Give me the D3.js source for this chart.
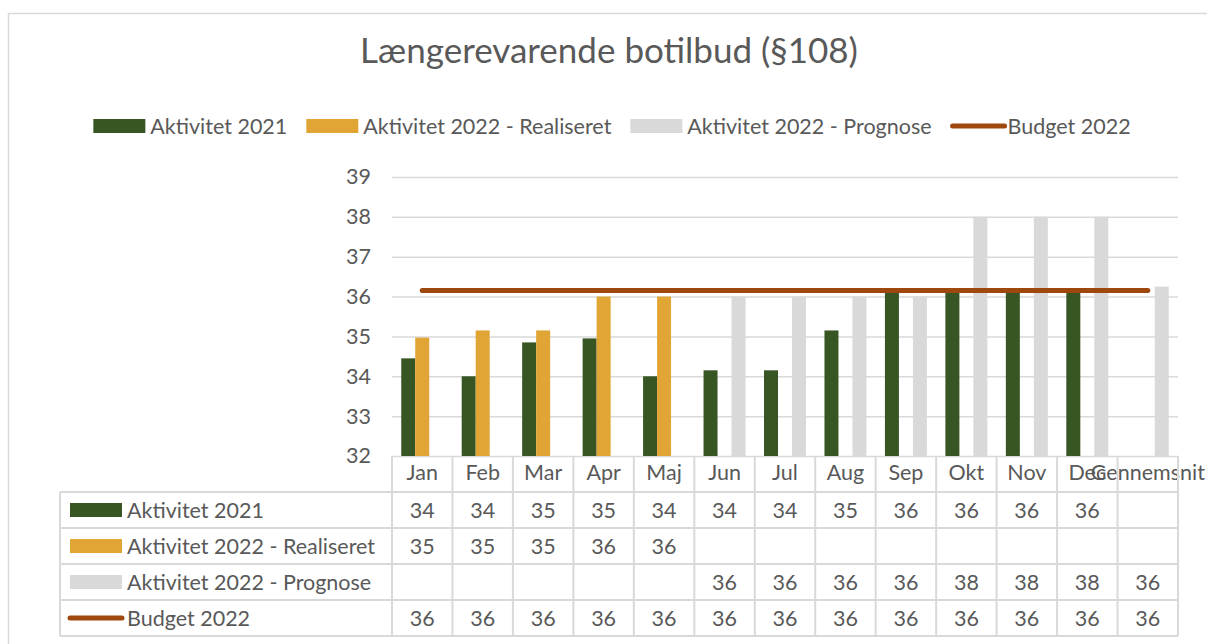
<!DOCTYPE html>
<html>
<head>
<meta charset="utf-8">
<script src="https://cdn.jsdelivr.net/npm/d3@7"></script>
<style>
body { margin: 0; background: #fff; }
text { font-family: Lato, "Open Sans", sans-serif; fill: #595959; }
</style>
</head>
<body>
<svg id="chart" width="1207" height="644"></svg>
<script>
// data
const months = ["Jan", "Feb", "Mar", "Apr", "Maj", "Jun", "Jul", "Aug", "Sep", "Okt", "Nov", "Dec", "Gennemsnit"];
const akt2021 = [34.45, 34.0, 34.85, 34.95, 34.0, 34.15, 34.15, 35.15, 36.15, 36.15, 36.15, 36.15, null];
const real2022 = [34.97, 35.15, 35.15, 36.0, 36.0, null, null, null, null, null, null, null, null];
const prog2022 = [null, null, null, null, null, 36.0, 36.0, 36.0, 36.0, 38.0, 38.0, 38.0, 36.25];
const budget2022 = [36.15, 36.15, 36.15, 36.15, 36.15, 36.15, 36.15, 36.15, 36.15, 36.15, 36.15, 36.15, 36.15];
const yTicks = [32, 33, 34, 35, 36, 37, 38, 39];
const title = "Længerevarende botilbud (§108)";

const series = [
    { name: "Aktivitet 2021", values: akt2021, color: "#375623", type: "bar" },
    { name: "Aktivitet 2022 - Realiseret", values: real2022, color: "#E1A535", type: "bar" },
    { name: "Aktivitet 2022 - Prognose", values: prog2022, color: "#D9D9D9", type: "bar" },
    { name: "Budget 2022", values: budget2022, color: "#9E480E", type: "line" }
];
const barSeries = series.filter(s => s.type == "bar");

const gridColor = "#D9D9D9";
const fontSize = 21.5;
const plot = { left: 392, right: 1178, top: 177, bottom: 456 };
const rowH = 36;
const tableTop = 492;
const tableLeft = 60;

const svg = d3.select("#chart");

// outer chart frame (cut by the page edge)
svg.append("rect")
    .attr("x", 8.5).attr("y", 13.5)
    .attr("width", 1300).attr("height", 700)
    .attr("fill", "none")
    .attr("stroke", gridColor)
    .attr("stroke-width", 1.5);

svg.append("text")
    .attr("x", 609).attr("y", 63)
    .attr("text-anchor", "middle")
    .attr("font-size", 35)
    .text(title);

const x = d3.scaleBand().domain(months).range([plot.left, plot.right]);
const xs = d3.scaleBand().domain(barSeries.map(s => s.name))
    .range([0, x.bandwidth()]).paddingOuter(0.66);
const y = d3.scaleLinear().domain([32, 39]).range([plot.bottom, plot.top]);

// y axis + gridlines
const yAxis = svg.append("g")
    .attr("transform", `translate(${plot.left},0)`)
    .call(d3.axisLeft(y).tickValues(yTicks).tickFormat(d3.format("d"))
        .tickSize(-(plot.right - plot.left)).tickPadding(21));
yAxis.select(".domain").remove();
yAxis.selectAll("line").attr("stroke", gridColor).attr("stroke-width", 1.5);
yAxis.selectAll("text").attr("font-size", fontSize).attr("fill", "#595959").attr("font-family", null);

// bars
barSeries.forEach(s => {
    svg.append("g").selectAll("rect")
        .data(months.map((m, i) => ({ m: m, v: s.values[i] })).filter(d => d.v != null))
        .join("rect")
        .attr("x", d => x(d.m) + xs(s.name))
        .attr("width", xs.bandwidth())
        .attr("y", d => y(d.v))
        .attr("height", d => y(32) - y(d.v))
        .attr("fill", s.color);
});

// budget line
const lineSeries = series.filter(s => s.type == "line");
lineSeries.forEach(s => {
    svg.append("path")
        .datum(months.map((m, i) => ({ m: m, v: s.values[i] })))
        .attr("fill", "none")
        .attr("stroke", s.color)
        .attr("stroke-width", 5)
        .attr("stroke-linecap", "round")
        .attr("d", d3.line().x(d => x(d.m) + x.bandwidth() / 2).y(d => y(d.v)));
});

// category labels
const xAxis = svg.append("g")
    .attr("transform", `translate(0,${plot.bottom})`)
    .call(d3.axisBottom(x).tickSize(0).tickPadding(9));
xAxis.select(".domain").remove();
xAxis.selectAll("text").attr("font-size", fontSize).attr("fill", "#595959").attr("font-family", null);

// data table
const tableBottom = tableTop + rowH * series.length;
const grid = svg.append("g").attr("stroke", gridColor).attr("stroke-width", 2);
grid.selectAll("line.h")
    .data(d3.range(series.length + 1))
    .join("line")
    .attr("class", "h")
    .attr("x1", tableLeft).attr("x2", plot.right)
    .attr("y1", i => tableTop + i * rowH).attr("y2", i => tableTop + i * rowH);
grid.selectAll("line.v")
    .data(months.concat(["end"]))
    .join("line")
    .attr("class", "v")
    .attr("x1", (m, i) => plot.left + i * x.step()).attr("x2", (m, i) => plot.left + i * x.step())
    .attr("y1", plot.bottom).attr("y2", tableBottom);
grid.append("line")
    .attr("x1", tableLeft).attr("x2", tableLeft)
    .attr("y1", tableTop).attr("y2", tableBottom);

const fmt = d3.format(".0f");
series.forEach((s, r) => {
    const cy = tableTop + r * rowH + rowH / 2;
    const row = svg.append("g");
    if (s.type == "bar") {
        row.append("rect")
            .attr("x", 70).attr("y", cy - 7)
            .attr("width", 52).attr("height", 14)
            .attr("fill", s.color);
    } else {
        row.append("line")
            .attr("x1", 70).attr("x2", 122)
            .attr("y1", cy).attr("y2", cy)
            .attr("stroke", s.color).attr("stroke-width", 5)
            .attr("stroke-linecap", "round");
    }
    row.append("text")
        .attr("x", 127).attr("y", cy + 7.5)
        .attr("font-size", fontSize)
        .text(s.name);
    row.selectAll("text.val")
        .data(months.map((m, i) => ({ m: m, v: s.values[i] })).filter(d => d.v != null))
        .join("text")
        .attr("class", "val")
        .attr("x", d => x(d.m) + x.bandwidth() / 2)
        .attr("y", cy + 7.5)
        .attr("text-anchor", "middle")
        .attr("font-size", fontSize)
        .text(d => fmt(d.v));
});

// legend, laid out from measured text widths and centred
const legend = svg.append("g");
let lx = 0;
series.forEach(s => {
    const item = legend.append("g").attr("transform", `translate(${lx},0)`);
    if (s.type == "bar") {
        item.append("rect")
            .attr("x", 0).attr("y", -7)
            .attr("width", 52).attr("height", 14)
            .attr("fill", s.color);
    } else {
        item.append("line")
            .attr("x1", 2).attr("x2", 54)
            .attr("y1", 0).attr("y2", 0)
            .attr("stroke", s.color).attr("stroke-width", 5)
            .attr("stroke-linecap", "round");
    }
    const t = item.append("text")
        .attr("x", 57).attr("y", 7.5)
        .attr("font-size", fontSize)
        .text(s.name);
    lx += 57 + t.node().getComputedTextLength() + 19;
});
lx -= 19;
legend.attr("transform", `translate(${612 - lx / 2},126)`);
</script>
</body>
</html>
